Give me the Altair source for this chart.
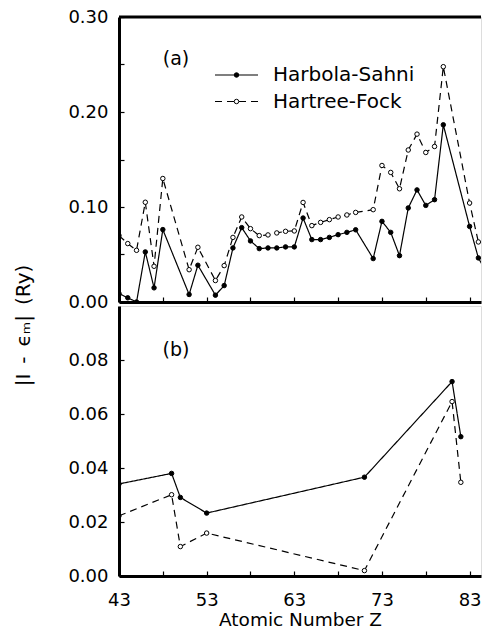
import altair as alt
import pandas as pd

series_names = ["Harbola-Sahni", "Hartree-Fock"]

# Panel (a)
z_a = [43, 44, 45, 46, 47, 48, 51, 52, 54, 55, 56, 57, 58, 59, 60, 61, 62, 63, 64,
       65, 66, 67, 68, 69, 70, 72, 73, 74, 75, 76, 77, 78, 79, 80, 83, 84, 85]
hs_a = [0.0089, 0.0044, 0.0000, 0.0527, 0.0149, 0.0762, 0.0079, 0.0387, 0.0072, 0.0173,
        0.0569, 0.0783, 0.0643, 0.0562, 0.0569, 0.0569, 0.0580, 0.0580, 0.0884,
        0.0657, 0.0657, 0.0680, 0.0709, 0.0733, 0.0760, 0.0457, 0.0849, 0.0733,
        0.0488, 0.0990, 0.1180, 0.1017, 0.1077, 0.1865, 0.0796, 0.0464, 0.0300]
hf_a = [0.0699, 0.0615, 0.0544, 0.1050, 0.0376, 0.1300, 0.0340, 0.0576, 0.0226, 0.0383,
        0.0680, 0.0895, 0.0772, 0.0699, 0.0706, 0.0727, 0.0744, 0.0748, 0.1048,
        0.0804, 0.0838, 0.0867, 0.0895, 0.0916, 0.0943, 0.0972, 0.1437, 0.1364,
        0.1192, 0.1600, 0.1767, 0.1574, 0.1637, 0.2477, 0.1042, 0.0632, 0.0560]

# Panel (b)
z_b = [43, 49, 50, 53, 71, 81, 82]
hs_b = [0.0341, 0.0380, 0.0291, 0.0233, 0.0366, 0.0720, 0.0516]
hf_b = [0.0223, 0.0301, 0.0109, 0.0159, 0.0020, 0.0646, 0.0347]

x_ticks = [43, 48, 53, 58, 63, 68, 73, 78, 83]
ya_ticks = [0, 0.05, 0.10, 0.15, 0.20, 0.25, 0.30]
yb_ticks = [0, 0.02, 0.04, 0.06, 0.08]
panel_labels = ["(a)", "(b)"]
x_title = "Atomic Number Z"
y_title = "|I\u2002-\u2002\u03f5\u2098|\u2002(Ry)"


def long_df(z, hs, hf):
    return pd.DataFrame({
        "Z": z + z,
        "value": hs + hf,
        "series": [series_names[0]] * len(z) + [series_names[1]] * len(z),
    })


df_a = long_df(z_a, hs_a, hf_a)
df_b = long_df(z_b, hs_b, hf_b)

FONT = "DejaVu Sans"
W = 362
HA = 285
HB = 270
TICK = {"expr": "-5"}
PAD = {"left": 4, "top": -1, "right": 0, "bottom": 0}

dash_scale = alt.Scale(domain=series_names, range=[[1, 0], [7, 5]])
fill_scale = alt.Scale(domain=series_names, range=["black", "white"])


def x_enc(show_labels):
    kw = dict(values=x_ticks, tickSize=TICK, tickColor="black", tickWidth=1.2,
              domainWidth=3, domainColor="black", grid=False, zindex=1,
              labelFlush=False)
    if show_labels:
        kw.update(labels=True,
                  labelExpr="(datum.value - 43) % 10 == 0 ? datum.label : ''",
                  labelFontSize=18, labelPadding=20, labelColor="black",
                  title=x_title, titleFontSize=18.5, titleFontWeight="normal",
                  titlePadding=1, titleColor="black")
    else:
        kw.update(labels=False, title="")
    return alt.X("Z:Q", scale=alt.Scale(domain=[43, 84.3], nice=False, zero=False),
                 axis=alt.Axis(**kw))


def y_enc(domain, ticks, expr, with_title):
    kw = dict(values=ticks, format=".2f", labelExpr=expr, tickSize=TICK,
              tickColor="black", tickWidth=1.2, domainWidth=3, domainColor="black",
              grid=False, zindex=1, labelFontSize=18, labelPadding=16,
              labelColor="black")
    if with_title:
        kw.update(title=y_title, titleX=-96, titleY=308, titleAlign="center",
                  titleBaseline="middle", titleFontSize=20, titleFontWeight="normal",
                  titleColor="black")
    else:
        kw.update(title="")
    return alt.Y("value:Q", scale=alt.Scale(domain=domain, nice=False, zero=False),
                 axis=alt.Axis(**kw))


def data_layers(df, x, y):
    base = alt.Chart(df)
    lines = base.mark_line(color="black", strokeWidth=1.2, clip=True).encode(
        x=x, y=y,
        strokeDash=alt.StrokeDash("series:N", scale=dash_scale, legend=None),
        detail="series:N",
    )
    pts = base.mark_point(shape="circle", size=20, filled=True, stroke="black",
                          strokeWidth=1, opacity=1, clip=True).encode(
        x=x, y=y,
        fill=alt.Fill("series:N", scale=fill_scale, legend=None),
    )
    return [lines, pts]


def panel_label(text, ypos):
    return alt.Chart(pd.DataFrame({"t": [text]})).mark_text(
        font=FONT, fontSize=19, align="center", baseline="middle", color="black"
    ).encode(text="t:N", x=alt.value(57), y=alt.value(ypos))


# Legend (drawn inside panel a)
legend_layers = []
for i, name in enumerate(series_names):
    ly = 58 + 26.5 * i
    ldf = pd.DataFrame({"series": [name]})
    lb = alt.Chart(ldf)
    legend_layers.append(lb.mark_rule(color="black", strokeWidth=1.2,
                                      strokeDash=[1, 0] if i == 0 else [7, 5]).encode(
        x=alt.value(96), x2=alt.value(139), y=alt.value(ly)))
    legend_layers.append(lb.mark_point(shape="circle", size=20, filled=True, stroke="black",
                                       strokeWidth=1, opacity=1).encode(
        x=alt.value(117.5), y=alt.value(ly),
        fill=alt.Fill("series:N", scale=fill_scale, legend=None)))
    legend_layers.append(lb.mark_text(font=FONT, fontSize=20, align="left",
                                      baseline="middle", color="black").encode(
        x=alt.value(154), y=alt.value(ly), text="series:N"))

top_border = alt.Chart(pd.DataFrame({"a": [0]})).mark_rule(
    color="black", strokeWidth=3).encode(y=alt.value(0))

xa = x_enc(False)
ya = y_enc([0, 0.3], ya_ticks,
           "round(datum.value * 100) % 10 == 0 ? datum.label : ''", True)
panel_a = alt.layer(
    *data_layers(df_a, xa, ya), top_border, panel_label(panel_labels[0], 42),
    *legend_layers
).properties(width=W, height=HA)

xb = x_enc(True)
yb = y_enc([0, 0.1], yb_ticks, "datum.label", False)
panel_b = alt.layer(
    *data_layers(df_b, xb, yb), panel_label(panel_labels[1], 44)
).properties(width=W, height=HB)

chart = alt.vconcat(panel_a, panel_b, spacing=4, bounds="flush", padding=PAD,
                    background="white").configure_view(stroke=None).configure(
    font=FONT, padding=PAD)

chart.save("out.html", embed_options={"renderer": "svg", "actions": False})
